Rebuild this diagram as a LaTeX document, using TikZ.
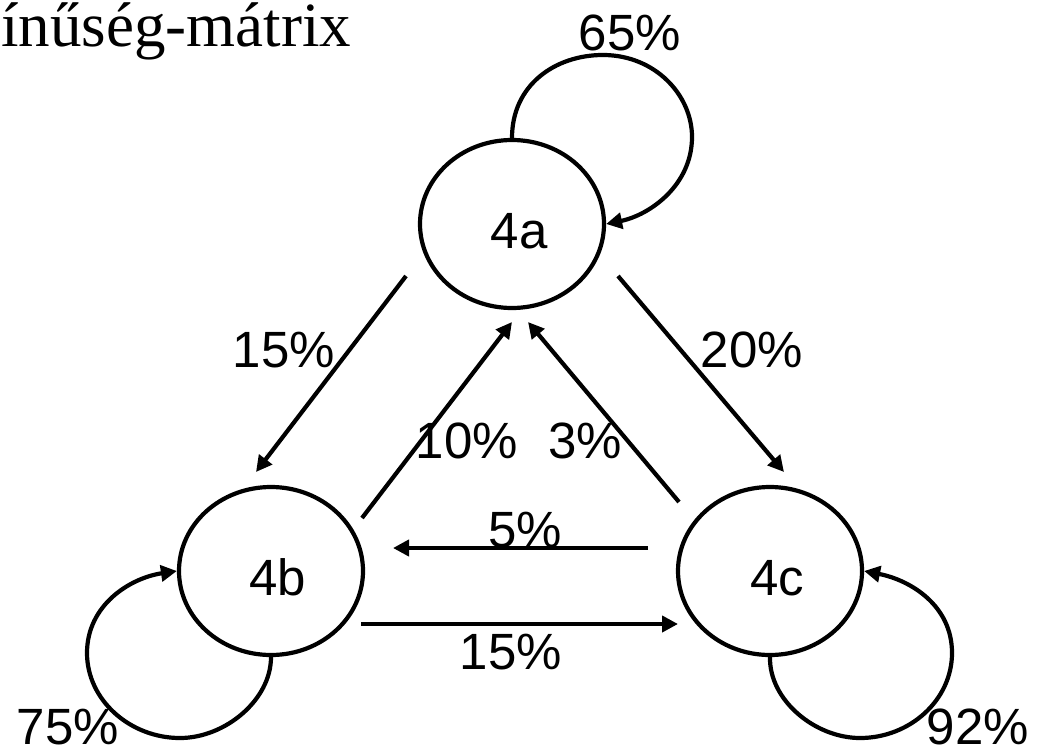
\documentclass[tikz,border=0pt]{standalone}
\usepackage{fontspec}
\setmainfont{Liberation Sans}
\newfontfamily\titlefont{Liberation Serif}
\usetikzlibrary{shapes.geometric,arrows.meta,calc}

\begin{document}
\begin{tikzpicture}[x=1pt,y=-1pt,
  state/.style={ellipse,draw,line width=4.2pt,minimum width=184pt,minimum height=168pt,
    inner sep=0pt,font=\fontsize{51}{51}\selectfont,text height=48.5pt,text depth=0pt},
  trans/.style={line width=4.2pt,-{Triangle[length=16pt,width=16pt]}},
  pct/.style={inner sep=0pt,font=\fontsize{51}{51}\selectfont}]
\useasboundingbox (0,0) rectangle (1048,746);

% title fragment
\node[anchor=base west,inner sep=0pt,font=\titlefont\fontsize{63}{63}\selectfont] (title) at (1,47) {ínűség-mátrix};

% states
\node[state] (4a) at (512,224) {\hspace*{14pt}4a};
\node[state] (4b) at (271,571) {\hspace*{14pt}4b};
\node[state] (4c) at (770,571) {\hspace*{14pt}4c};

% self loops
\draw[trans] (4a.north) .. controls (512,85) and (555,55) .. (603,55)
  .. controls (655,55) and (692,95) .. (692,137)
  .. controls (692,185) and (650,215) .. (4a.east);
\draw[trans] (4b.south) .. controls (271,700) and (225,738) .. (180,738)
  .. controls (130,738) and (87,700) .. (87,653)
  .. controls (87,605) and (130,578) .. (4b.west);
\draw[trans] (4c.south) .. controls (769,700) and (815,738) .. (860,738)
  .. controls (910,738) and (952,700) .. (952,653)
  .. controls (952,605) and (910,580) .. (4c.east);

% transitions between states
\draw[trans] ($(4a)+(-106,52)$) -- ($(4b)+(-15,-99)$);
\draw[trans] ($(4a)+(106,52)$) -- ($(4c)+(14,-99)$);
\draw[trans] ($(4b)+(91,-53)$) -- ($(4a)+(0,98)$);
\draw[trans] ($(4c)+(-91,-69)$) -- ($(4a)+(16,98)$);
\draw[trans] ($(4c)+(-122,-23)$) -- ($(4b)+(122,-23)$);
\draw[trans] ($(4b)+(90,53)$) -- ($(4c)+(-92,53)$);

% probabilities
\node[pct] (paa) at (630,33) {65\%};
\node[pct] (pab) at (284,350) {15\%};
\node[pct] (pac) at (752,350) {20\%};
\node[pct] (pba) at (467,441) {10\%};
\node[pct] (pca) at (585,441) {3\%};
\node[pct] (pcb) at (525,530) {5\%};
\node[pct] (pbc) at (511,652) {15\%};
\node[pct] (pbb) at (68,727) {75\%};
\node[pct] (pcc) at (978,727) {92\%};
\end{tikzpicture}
\end{document}
